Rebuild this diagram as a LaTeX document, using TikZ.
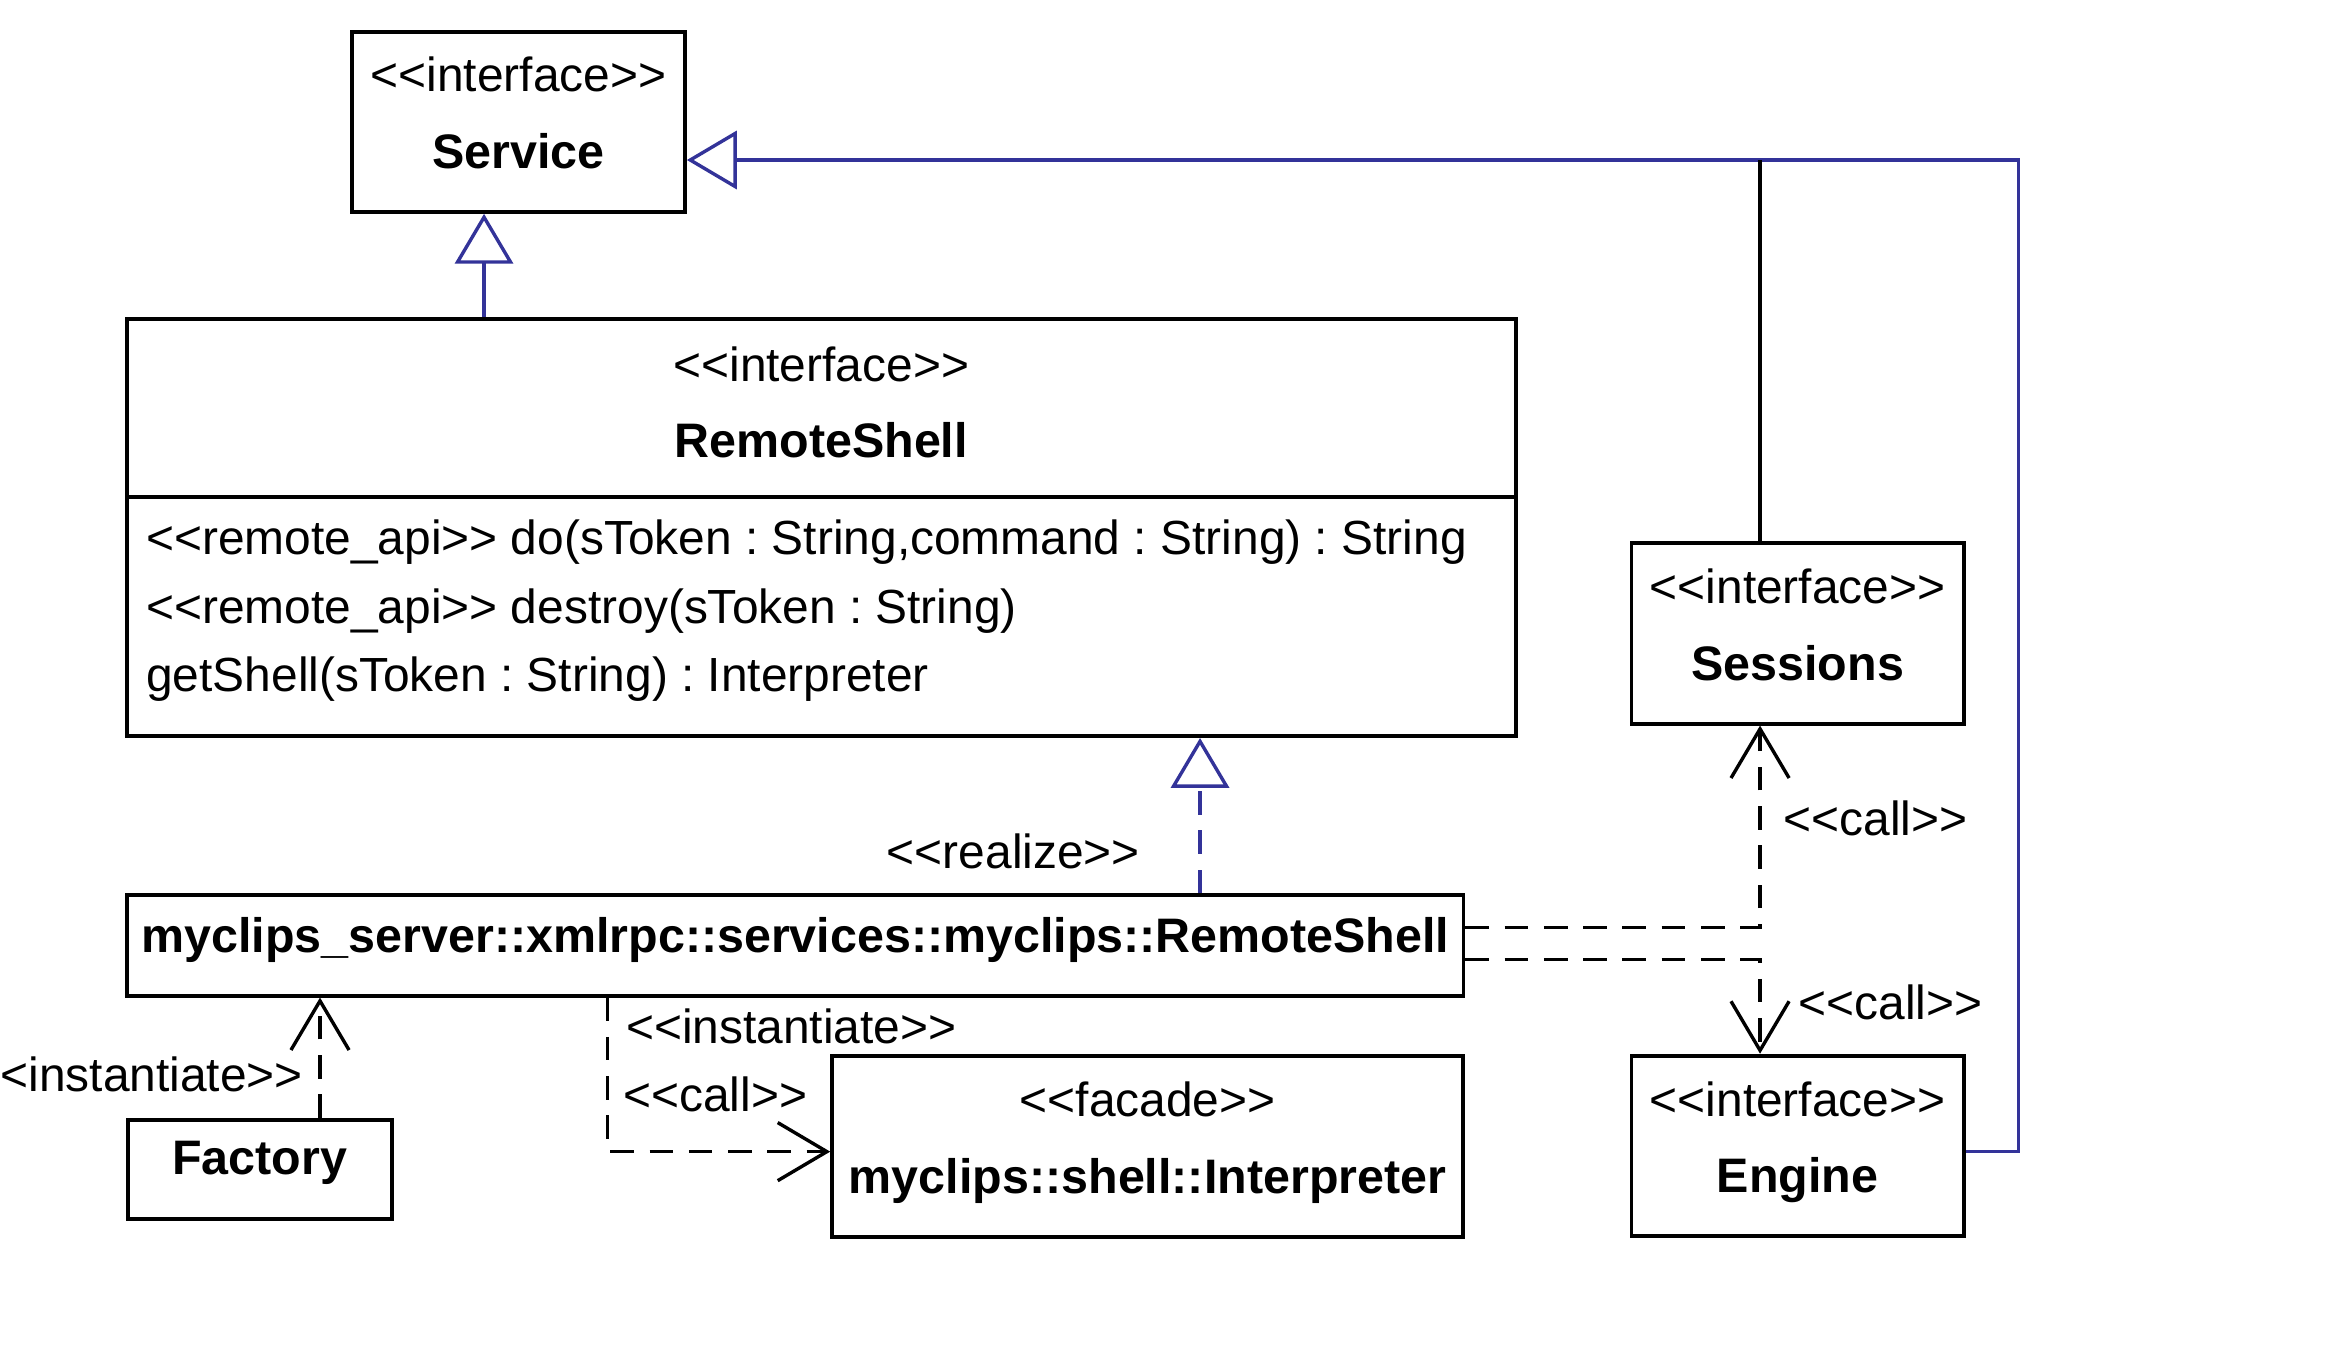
\documentclass[tikz,border=0pt]{standalone}
\usepackage{fontspec}
\newfontfamily\umlfont{Liberation Sans}
\usetikzlibrary{positioning}
\usetikzlibrary{arrows.meta}
\usetikzlibrary{calc}
\definecolor{umlblue}{RGB}{51,51,153}
\frenchspacing
\tikzstyle{classbox}=[draw,line width=1.5pt,minimum height=2.42cm,inner sep=0pt]
\tikzstyle{stereo}=[font=\umlfont\fontsize{18.3}{22}\selectfont,inner sep=0pt,anchor=base]
\tikzstyle{classname}=[stereo,font=\umlfont\fontsize{18.5}{22}\selectfont\bfseries]
\tikzstyle{gen} = [draw,umlblue,line width=1.3pt,-{Triangle[open,length=0.67cm,width=0.78cm]}]
\tikzstyle{real} = [gen,dash pattern=on 9pt off 6pt]
\tikzstyle{dep} = [draw,line width=1.3pt,dash pattern=on 9pt off 6pt,-{Straight Barb[length=0.66cm,width=0.78cm]}]

\begin{document}
\begin{tikzpicture}[x=0.02cm,y=-0.02cm]
\useasboundingbox (0,0) rectangle (1568,910);

    \foreach \name/\pos/\w/\st/\ti in {{service/(348,81.7)/4.47cm/interface/Service},
        {sessions/(1206.6,425.2)/4.46cm/interface/Sessions},
        {engine/(1206.6,769.1)/4.46cm/interface/Engine},
        {facade/(770.3,769.6)/8.47cm/facade/myclips::shell::Interpreter}}
    {
        \node[classbox,minimum width=\w] (\name) at \pos {};
        \node[stereo] (\name-st) at ($(\name.north)+(0,41.8)$) {<<\st>>};
        \node[classname] (\name-ti) at ($(\name-st.base)+(0,51.3)$) {\ti};
    }

    % RemoteShell interface with its operations
    \node[classbox,minimum width=18.65cm,minimum height=2.39cm] (rshead) at (551.25,273.8) {};
    \node[classbox,minimum width=18.65cm,minimum height=3.21cm] (rsops) at (551.25,413.8) {};
    \node[stereo] (rshead-st) at ($(rshead.north)+(0,43)$) {<<interface>>};
    \node[classname] (rshead-ti) at ($(rshead-st.base)+(0,51.3)$) {RemoteShell};
    \foreach \i/\y/\op in {{1/372.5/<<remote\_api>> do(sToken : String,command : String) : String},
        {2/418.3/<<remote\_api>> destroy(sToken : String)},
        {3/464.1/getShell(sToken : String) : Interpreter}}
        \node[stereo,anchor=base west] (op\i) at (97.8,\y) {\op};

    \node[classbox,minimum width=17.94cm,minimum height=1.35cm] (impl) at (533.9,634.5) {};
    \node[classname] (impl-ti) at ($(impl.north)+(0,40)$) {myclips\_server::xmlrpc::services::myclips::RemoteShell};
    \node[classbox,minimum width=3.55cm,minimum height=1.33cm] (factory) at (174.35,784.95) {};
    \node[classname] (factory-ti) at ($(factory.north)+(0,38)$) {Factory};

    \coordinate (jn) at (1181.4,107.4);
    \draw[gen] (rshead.north -| 324.9,0) -- (service.south -| 324.9,0);
    \draw[gen] (engine.east |- 0,772.9) -- ++(35.4,0) |- (service.east |- jn);
    \draw[line width=1.3pt] (sessions.north -| jn) -- (jn);
    \draw[real] (impl.north -| 805.5,0) -- (rsops.south -| 805.5,0);
    \draw[dep] (impl.east |- 0,622.6) -| (sessions.south -| jn);
    \draw[dep] (impl.east |- 0,643.9) -| (engine.north -| jn);
    \draw[dep] (factory.north -| 214.8,0) -- (impl.south -| 214.8,0);
    \draw[dep] (impl.south -| 407.7,0) |- (facade.west |- 0,773);

    \foreach \lb/\pos/\txt in {{realize/(595,583)/realize}, {callA/(1196.8,560.8)/call},
        {callB/(1207,684.3)/call}, {instB/(420,700.2)/instantiate}, {callC/(418,746)/call}}
        \node[stereo,anchor=base west] (\lb-lb) at \pos {<<\txt>>};
    \node[stereo,anchor=base east] (instA-lb) at (203.6,732.5) {<<instantiate>>};

\end{tikzpicture}
\end{document}
